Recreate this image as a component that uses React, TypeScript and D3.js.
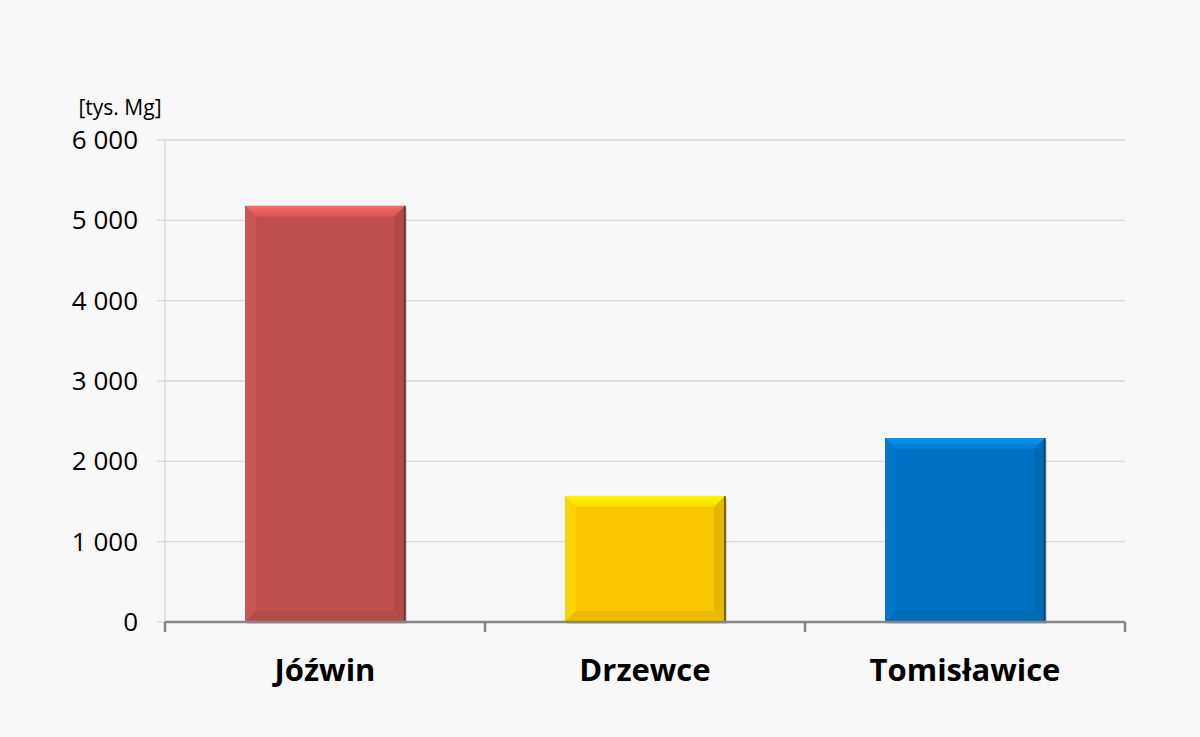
import React from "react";
import * as d3 from "d3";

const categories = ["Jóźwin", "Drzewce", "Tomisławice"];
const values = [5180, 1570, 2290];
const colors = ["#c0504d", "#f9c700", "#0071c2"];
const yTicks = [0, 1000, 2000, 3000, 4000, 5000, 6000];
const unitLabel = "[tys. Mg]";

const W = 1200, H = 737;
const left = 165, right = 1125, top = 140, bottom = 622;

export default function App() {
  const x = d3.scaleBand<string>().domain(categories).range([left, right]).paddingInner(0.5).paddingOuter(0.25);
  const y = d3.scaleLinear().domain([0, 6000]).range([bottom, top]);
  const fmt = (v: number) => d3.format(",")(v).replace(/,/g, " ");
  const bands = d3.scaleBand<string>().domain(categories).range([left, right]);
  const bev = 11;
  return (
    <svg width={W} height={H} style={{ position: "absolute", left: 0, top: 0, fontFamily: "'Open Sans', sans-serif" }}>
      <defs>
        {colors.map((c, i) => (
          <linearGradient key={i} id={`topbev${i}`} x1="0" x2="0" y1="0" y2="1">
            <stop offset="0" stopColor={d3.color(c)!.brighter(0.9).formatHex()} />
            <stop offset="1" stopColor={d3.color(c)!.brighter(0.3).formatHex()} />
          </linearGradient>
        ))}
      </defs>
      <rect width={W} height={H} fill="#f8f8f8" />
      {yTicks.map(t => (
        <g key={t}>
          {t > 0 && <line x1={left} x2={right} y1={y(t)} y2={y(t)} stroke="#d9d9d9" strokeWidth={1.3} />}
          <line x1={157} x2={left} y1={y(t)} y2={y(t)} stroke="#d9d9d9" strokeWidth={1.3} />
          <text x={138} y={y(t) + 9} textAnchor="end" fontSize={26} fill="#000">{fmt(t)}</text>
        </g>
      ))}
      <line x1={left} x2={left} y1={top} y2={bottom} stroke="#d9d9d9" strokeWidth={1.3} />
      <text x={120} y={115} textAnchor="middle" fontSize={21} fill="#000">{unitLabel}</text>
      {categories.map((c, i) => {
        const x0 = x(c)!, w = x.bandwidth(), y0 = y(values[i]), y1 = y(0);
        const col = d3.color(colors[i])!;
        const light = d3.color(colors[i])!.brighter(0.6).formatHex();
        const dark = d3.color(colors[i])!.darker(0.5).formatHex();
        const x1 = x0 + w;
        return (
          <g key={c}>
            <rect x={x0 + 2} y={y0 + 2} width={w} height={y1 - y0} fill="#000" opacity={0.15} />
            <rect x={x0} y={y0} width={w} height={y1 - y0} fill={col.formatHex()} />
            <polygon points={`${x0},${y0} ${x1},${y0} ${x1 - bev},${y0 + bev} ${x0 + bev},${y0 + bev}`} fill={`url(#topbev${i})`} opacity={0.85} />
            <polygon points={`${x0},${y0} ${x0 + bev},${y0 + bev} ${x0 + bev},${y1 - bev} ${x0},${y1}`} fill={light} opacity={0.25} />
            <polygon points={`${x1},${y0} ${x1 - bev},${y0 + bev} ${x1 - bev},${y1 - bev} ${x1},${y1}`} fill={dark} opacity={0.5} />
            <polygon points={`${x0},${y1} ${x0 + bev},${y1 - bev} ${x1 - bev},${y1 - bev} ${x1},${y1}`} fill={dark} opacity={0.35} />
            <line x1={x1} x2={x1} y1={y0} y2={y1} stroke="#222" strokeWidth={1.5} opacity={0.8} />
          </g>
        );
      })}
      <line x1={left} x2={right} y1={bottom} y2={bottom} stroke="#868686" strokeWidth={2.5} />
      {[...categories.map(c => bands(c)!), right].map((t, i) => (
        <line key={i} x1={t} x2={t} y1={bottom} y2={bottom + 10} stroke="#868686" strokeWidth={2.5} />
      ))}
      {categories.map(c => (
        <text key={c} x={bands(c)! + bands.bandwidth() / 2} y={681} textAnchor="middle" fontSize={31} fontWeight="bold" fill="#000">{c}</text>
      ))}
    </svg>
  );
}
